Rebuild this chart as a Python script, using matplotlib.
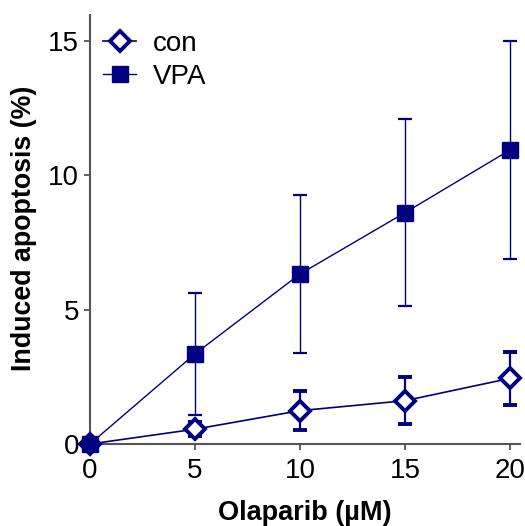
import matplotlib
matplotlib.use("Agg")
import matplotlib.pyplot as plt

plt.rcParams['font.family'] = ['Liberation Sans', 'DejaVu Sans']

doses = [0, 5, 10, 15, 20]
con_mean = [0.0, 0.55, 1.24, 1.61, 2.44]
con_err = [0.0, 0.27, 0.73, 0.87, 0.98]
vpa_mean = [0.0, 3.35, 6.32, 8.60, 10.93]
vpa_err = [0.0, 2.28, 2.92, 3.47, 4.07]
xticks = [0, 5, 10, 15, 20]
yticks = [0, 5, 10, 15]

navy = '#000080'
gray = '#555555'

W, H = 525, 526
fig = plt.figure(figsize=(W/100, H/100), dpi=100)
ax = fig.add_axes([90/W, 1-444/H, 430/W, 429/H])

con = ax.errorbar(doses, con_mean, yerr=con_err, color=navy, lw=1.2, elinewidth=1.6,
                  capsize=5, capthick=2.2, marker='D', ms=10, mfc='white', mec=navy, mew=2.8,
                  label='con', clip_on=False, zorder=3)
vpa = ax.errorbar(doses, vpa_mean, yerr=vpa_err, color=navy, lw=1.0, elinewidth=1.0,
                  capsize=5, capthick=1.6, marker='s', ms=11, mfc=navy, mec=navy,
                  label='VPA', clip_on=False, zorder=4)

ax.set_xlim(0, 20.48)
ax.set_ylim(0, 15.95)
ax.set_xticks(xticks)
ax.set_yticks(yticks)

for s in ['top', 'right']:
    ax.spines[s].set_visible(False)
for s in ['left', 'bottom']:
    ax.spines[s].set_color(gray)
    ax.spines[s].set_linewidth(1.5)
    ax.spines[s].set_zorder(1)
ax.tick_params(axis='both', direction='out', length=4.5, width=1.3, color=gray,
               labelsize=20, labelcolor='black', pad=3.5)
ax.tick_params(axis='x', pad=5.5)

fig.text(305/W, 1-513/H, 'Olaparib (µM)', fontsize=19.5, fontweight='bold',
         ha='center', va='center')
fig.text(24/W, 1-228/H, 'Induced apoptosis (%)', fontsize=19.3, fontweight='bold',
         ha='center', va='center', rotation=90)

leg = ax.legend([con[0], vpa[0]], ['con', 'VPA'], loc='upper left',
                bbox_to_anchor=((103-90)/430, (444-31)/429), frameon=False, fontsize=20,
                handlelength=1.2, handletextpad=0.58, labelspacing=0.24,
                borderaxespad=0, borderpad=0)

fig.savefig('out.png', dpi=100)
